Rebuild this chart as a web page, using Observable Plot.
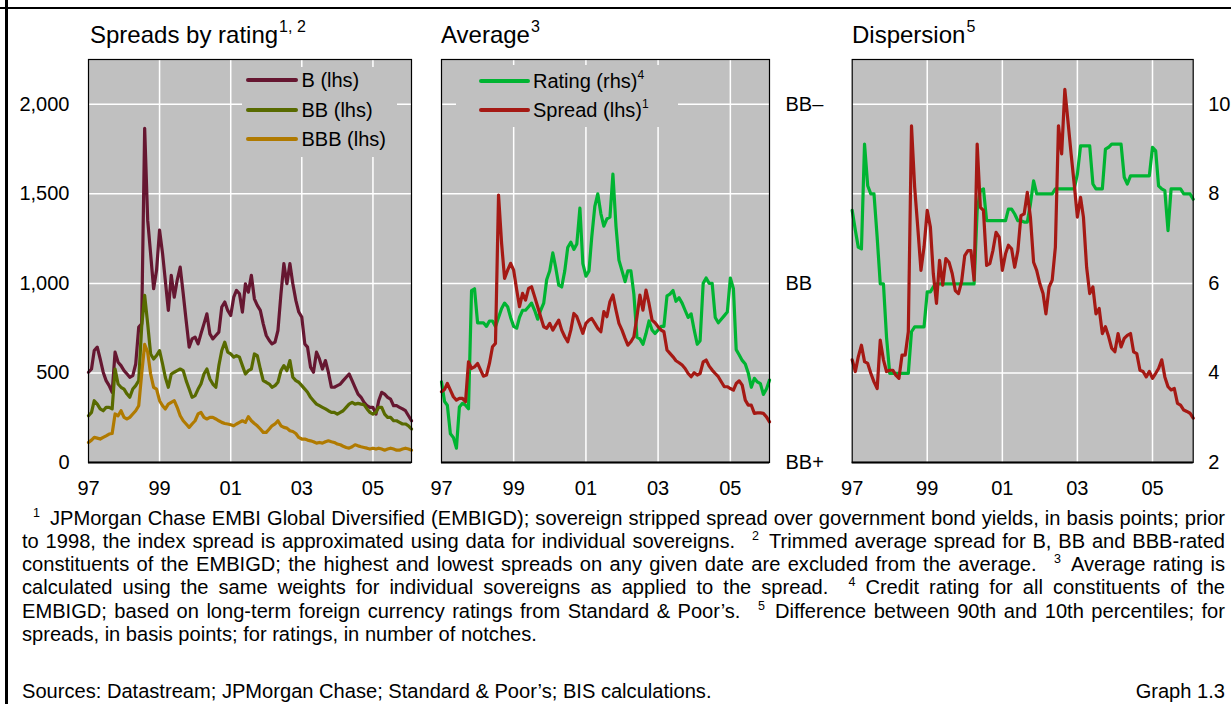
<!DOCTYPE html>
<html>
<head>
<meta charset="utf-8">
<script src="https://cdn.jsdelivr.net/npm/d3@7"></script>
<script src="https://cdn.jsdelivr.net/npm/@observablehq/plot@0.6"></script>
<style>
  html, body { margin: 0; padding: 0; background: #fff; }
  body { font-family: "Liberation Sans", Arial, Helvetica, sans-serif; color: #000; }
  #page { position: relative; width: 1231px; height: 704px; overflow: hidden; background: #fff; }
  .abs { position: absolute; }
  .title { font-size: 24px; line-height: 24px; white-space: nowrap; }
  .title sup { font-size: 16px; vertical-align: 0; position: relative; top: -11px; line-height: 0; margin-left: 1px; }
  .legbox { background: #c0c0c0; }
  .legtxt { font-size: 20px; line-height: 20px; white-space: nowrap; }
  .legtxt sup { font-size: 12px; position: relative; top: -9px; vertical-align: 0; line-height: 0; }
  .sw { height: 4px; border-radius: 2px; }
  #notes { left: 22px; top: 506.5px; width: 1203px; font-size: 20.3px; line-height: 23.3px; }
  #notes .ln { text-align: justify; text-align-last: justify; white-space: nowrap; }
  #notes .ln.last { text-align: left; text-align-last: left; }
  #notes sup { font-size: 12.5px; position: relative; top: -8px; vertical-align: 0; line-height: 0; }
  #notes .lead { display: inline-block; width: 28px; padding-left: 11px; box-sizing: border-box; }
  #src { left: 22px; top: 680px; width: 1203px; font-size: 20.3px; line-height: 23.3px; white-space: nowrap; }
  #src .r { position: absolute; right: 0; top: 0; }
</style>
</head>
<body>
<div id="page">
  <div class="abs" style="left:0;top:6.7px;width:1231px;height:2.6px;background:#000"></div>
  <div class="abs" style="left:5.2px;top:0;width:2.8px;height:704px;background:#000"></div>
  <div id="p1" class="abs" style="left:0;top:0"></div>
  <div id="p2" class="abs" style="left:420px;top:0"></div>
  <div id="p3" class="abs" style="left:840px;top:0"></div>
  <div id="overlay"></div>
  <div id="notes" class="abs"></div>
  <div id="src" class="abs"></div>
</div>
<script>
// ---------------- data (monthly, Jan 1997 – Feb 2006) ----------------
const startMonth = new Date(Date.UTC(1997, 0, 1));
const endMonthExclusive = new Date(Date.UTC(2006, 2, 1));
const months = d3.utcMonths(startMonth, endMonthExclusive);

// Spreads by rating, basis points (lhs)
const spreadB = [504,522,625,644,578,504,457,429,392,616,
  560,541,513,494,476,485,550,756,774,1866,
  1353,1166,970,1073,1297,1166,1017,849,1045,923,
  1017,1091,942,793,644,690,700,662,718,774,
  830,718,690,709,728,868,896,849,821,923,
  961,942,840,998,951,1045,914,877,849,774,
  709,681,662,672,737,942,1110,998,1110,998,
  905,840,812,662,644,532,504,616,578,522,
  569,504,420,420,429,438,457,476,494,457,
  420,382,364,336,317,308,308,270,345,392,
  382,364,354,317,317,308,299,289,261,233];
const spreadBB = [261,280,345,326,299,289,308,308,299,522,
  438,420,410,382,364,410,429,457,756,933,
  774,606,578,597,625,550,476,420,494,504,
  513,522,513,457,410,364,373,410,438,494,
  522,466,438,420,541,625,672,616,606,588,
  597,588,541,494,513,522,606,597,522,457,
  448,438,420,429,448,513,541,513,569,476,
  457,448,429,410,392,364,345,326,317,308,
  299,289,280,280,270,280,289,308,326,336,
  326,330,326,323,299,280,270,280,308,308,
  270,252,252,233,233,224,215,215,205,187];
const spreadBBB = [112,125,140,136,131,140,149,159,162,271,
  261,289,252,243,252,271,289,317,494,659,
  616,494,420,410,345,317,299,326,336,345,
  308,261,233,215,196,215,233,271,280,252,
  243,252,252,243,233,224,218,215,211,205,
  215,224,233,224,256,233,218,205,187,168,
  168,187,205,215,233,205,196,192,177,173,
  162,140,131,131,125,121,116,108,112,108,
  116,121,116,112,103,99,91,84,80,88,
  99,93,88,84,80,75,80,75,80,75,
  69,75,80,75,69,69,75,80,75,69];

// Average: spread (lhs, bp) and rating (rhs, notch scale: 11 = BB+, 12 = BB, 13 = BB–)
const avgSpread = [395,408,441,404,367,348,358,358,339,562,
  525,534,553,516,482,488,553,646,665,1493,
  1223,1028,1074,1112,1074,963,870,944,907,972,
  981,926,870,814,758,749,777,739,767,795,
  739,702,674,739,832,814,767,721,777,795,
  804,777,749,730,842,814,898,935,851,777,
  739,693,655,674,702,814,935,851,963,888,
  795,780,758,739,730,628,609,590,568,557,
  544,525,497,479,501,488,497,562,572,538,
  516,497,479,451,423,423,413,404,441,456,
  432,348,320,320,274,277,277,274,255,227];
const avgRating = [11.45,11.34,11.32,11.16,11.14,11.08,11.31,11.33,11.32,11.30,
  11.96,11.97,11.78,11.78,11.78,11.76,11.79,11.79,11.76,11.81,
  11.86,11.89,11.87,11.81,11.76,11.75,11.81,11.85,11.85,11.87,
  11.89,11.85,11.80,11.85,11.89,12.02,12.07,12.17,12.09,11.99,
  11.98,12.07,12.20,12.23,12.19,12.22,12.42,12.11,12.04,12.07,
  12.26,12.43,12.50,12.39,12.32,12.36,12.37,12.61,12.32,12.13,
  12.07,12.01,12.07,12.07,11.94,11.70,11.69,11.66,11.72,11.79,
  11.74,11.72,11.74,11.76,11.76,11.93,11.94,11.96,11.90,11.92,
  11.89,11.85,11.81,11.83,11.74,11.66,11.68,12.00,12.03,12.00,
  12.00,11.81,11.78,11.80,11.82,11.84,12.03,11.97,11.63,11.60,
  11.57,11.55,11.50,11.42,11.47,11.45,11.44,11.38,11.41,11.46];
const ratingTickValues = [11, 12, 13];
const ratingTickLabels = ["BB+", "BB", "BB\u2013"];

// Dispersion: spreads (bp, lhs scale) and ratings (notches, rhs 2–10)
const dispSpread = [573,508,590,655,563,553,498,450,413,683,
  573,508,515,515,488,470,600,600,730,1880,
  1535,1313,1073,1203,1408,1313,1055,888,1128,990,
  1138,1118,1055,960,943,1008,1155,1183,1183,1018,
  1778,1425,1408,1100,1110,1183,1285,1258,1073,1165,
  1213,1193,1090,1183,1378,1388,1508,1370,1118,1073,
  998,943,830,980,1018,1203,1880,1723,2083,1908,
  1723,1555,1370,1480,1370,1090,943,980,830,860,
  720,758,703,638,618,720,645,693,710,720,
  618,608,515,508,478,508,470,498,525,573,
  478,423,405,413,330,320,293,285,275,248];
const dispRating = [7.63,7.18,6.81,6.77,9.11,8.18,8.00,8.00,7.03,5.99,
  5.99,4.80,3.99,3.99,3.99,3.99,3.99,3.99,3.99,4.92,
  5.03,5.03,5.03,5.03,5.81,5.81,5.92,5.99,5.99,5.99,
  5.99,5.99,5.99,5.99,5.99,5.99,5.99,5.99,5.99,5.99,
  7.63,8.07,8.11,7.40,7.40,7.40,7.40,7.40,7.40,7.40,
  7.66,7.66,7.55,7.40,7.40,7.37,7.37,7.77,8.29,8.00,
  8.00,8.00,8.00,8.00,8.00,8.11,8.11,8.11,8.11,8.11,
  8.11,8.11,8.44,9.07,9.07,9.07,9.07,8.22,8.11,8.11,
  8.11,9.00,9.04,9.11,9.11,9.11,9.11,8.37,8.22,8.40,
  8.40,8.40,8.40,8.40,8.40,8.40,9.04,8.96,8.18,8.11,
  8.07,7.18,8.11,8.11,8.11,8.11,8.00,8.00,8.00,7.88];
const dispTickLabels = [2, 4, 6, 8, 10];

// axes
const yearTickYears = [1997, 1999, 2001, 2003, 2005];
const spreadTicks = [0, 500, 1000, 1500, 2000];
const spreadDomain = [0, 2250];

// ---------------- styling ----------------
const C = { B: "#661731", BB: "#586a00", BBB: "#b07a00", rating: "#00b432", spread: "#a51914" };
const FONT = "'Liberation Sans', Arial, Helvetica, sans-serif";

const yearTicks = yearTickYears.map(y => new Date(Date.UTC(y, 0, 1)));
const gridYears = yearTicks.slice(1);
const gridY = spreadTicks.slice(1);
const rows = vals => vals.map((v, i) => ({ date: months[i], value: v }));

// rhs → lhs mappings (dual axes share the lhs gridlines)
const ratingToY = r => (r - ratingTickValues[0]) * (spreadTicks[2] - spreadTicks[0]);
const dispToY = v => (v - dispTickLabels[0]) * (spreadTicks[1] / (dispTickLabels[1] - dispTickLabels[0]));

function panel({ width, ml, mr, lines, axes }) {
  return Plot.plot({
    width, height: 500,
    marginLeft: ml, marginRight: mr, marginTop: 59, marginBottom: 38,
    style: { fontFamily: FONT, fontSize: "20px", color: "#000", background: "transparent", overflow: "visible" },
    x: { type: "utc", domain: [months[0], months[months.length - 1]] },
    y: { domain: spreadDomain },
    marks: [
      Plot.frame({ fill: "#c0c0c0" }),
      Plot.ruleX(gridYears, { stroke: "#fff", strokeWidth: 1.5 }),
      Plot.ruleY(gridY, { stroke: "#fff", strokeWidth: 1.5 }),
      ...lines.map(l => Plot.lineY(l.data, {
        x: "date", y: l.y || "value", stroke: l.color, strokeWidth: 3.2,
        strokeLinejoin: "round", strokeLinecap: "round"
      })),
      Plot.frame({ stroke: "#000", strokeWidth: 1.2 }),
      Plot.ruleY([0], { stroke: "#000", strokeWidth: 2.2 }),
      Plot.axisX({ ticks: yearTicks, tickFormat: d3.utcFormat("%y"), tickSize: 0, tickPadding: 18, label: null, fontSize: 20 }),
      ...axes
    ]
  });
}

document.getElementById("p1").append(panel({
  width: 420, ml: 88, mr: 9,
  lines: [
    { data: rows(spreadB), color: C.B },
    { data: rows(spreadBB), color: C.BB },
    { data: rows(spreadBBB), color: C.BBB }
  ],
  axes: [Plot.axisY({ anchor: "left", ticks: spreadTicks, tickFormat: d3.format(","), tickSize: 0, tickPadding: 19, label: null, fontSize: 20 })]
}));

document.getElementById("p2").append(panel({
  width: 420, ml: 21, mr: 71,
  lines: [
    { data: rows(avgRating), color: C.rating, y: d => ratingToY(d.value) },
    { data: rows(avgSpread), color: C.spread }
  ],
  axes: [Plot.axisY({
    anchor: "right", ticks: ratingTickValues.map(ratingToY),
    tickFormat: (d, i) => ratingTickLabels[i], tickSize: 0, tickPadding: 16, label: null, fontSize: 20
  })]
}));

document.getElementById("p3").append(panel({
  width: 391, ml: 11.7, mr: 38.3,
  lines: [
    { data: rows(dispRating), color: C.rating, y: d => dispToY(d.value) },
    { data: rows(dispSpread), color: C.spread }
  ],
  axes: [Plot.axisY({
    anchor: "right", ticks: dispTickLabels.map(dispToY),
    tickFormat: (d, i) => String(dispTickLabels[i]), tickSize: 0, tickPadding: 15, label: null, fontSize: 20
  })]
}));

// ---------------- titles and legends ----------------
const overlay = document.getElementById("overlay");
function add(html, style, cls) {
  const el = document.createElement("div");
  el.className = "abs " + (cls || "");
  el.setAttribute("style", style);
  el.innerHTML = html;
  overlay.append(el);
  return el;
}
add("Spreads by rating<sup>1, 2</sup>", "left:90px;top:22.7px", "title");
add("Average<sup>3</sup>", "left:441px;top:22.7px", "title");
add("Dispersion<sup>5</sup>", "left:852px;top:22.7px", "title");

const legend1 = [
  { label: "B (lhs)", color: C.B },
  { label: "BB (lhs)", color: C.BB },
  { label: "BBB (lhs)", color: C.BBB }
];
const legend2 = [
  { label: "Rating (rhs)<sup>4</sup>", color: C.rating },
  { label: "Spread (lhs)<sup>1</sup>", color: C.spread }
];
function legend(items, box, x0, x1, tx, y0, dy) {
  add("", `left:${box[0]}px;top:${box[1]}px;width:${box[2]}px;height:${box[3]}px`, "legbox");
  items.forEach((it, i) => {
    const cy = y0 + i * dy;
    add("", `left:${x0}px;top:${cy - 2}px;width:${x1 - x0}px;background:${it.color}`, "sw");
    add(it.label, `left:${tx}px;top:${cy - 9.8}px`, "legtxt");
  });
}
legend(legend1, [241.5, 66.5, 155, 90.5], 246, 298, 301.5, 80, 29.6);
legend(legend2, [456, 65, 222, 62], 479, 530, 533, 80.7, 29.4);

// ---------------- footnotes ----------------
const noteLines = [
  "<span class='lead'><sup>1</sup></span>JPMorgan Chase EMBI Global Diversified (EMBIGD); sovereign stripped spread over government bond yields, in basis points; prior",
  "to 1998, the index spread is approximated using data for individual sovereigns. &ensp;<sup>2</sup>&ensp;Trimmed average spread for B, BB and BBB-rated",
  "constituents of the EMBIGD; the highest and lowest spreads on any given date are excluded from the average. &ensp;<sup>3</sup>&ensp;Average rating is",
  "calculated using the same weights for individual sovereigns as applied to the spread. &ensp;<sup>4</sup>&ensp;Credit rating for all constituents of the",
  "EMBIGD; based on long-term foreign currency ratings from Standard &amp; Poor\u2019s. &ensp;<sup>5</sup>&ensp;Difference between 90th and 10th percentiles; for",
  "spreads, in basis points; for ratings, in number of notches."
];
const notes = document.getElementById("notes");
const lineEls = noteLines.map((t, i) => {
  const d = document.createElement("div");
  d.className = "ln" + (i === noteLines.length - 1 ? " last" : "");
  d.innerHTML = t;
  notes.append(d);
  return d;
});
// shrink the footnote font slightly only if a line would not fit the text block
(function fit() {
  let size = parseFloat(getComputedStyle(notes).fontSize);
  const probe = document.createElement("span");
  probe.style.whiteSpace = "nowrap";
  probe.style.visibility = "hidden";
  probe.style.position = "absolute";
  notes.append(probe);
  const tooWide = () => lineEls.some(el => { probe.innerHTML = el.innerHTML; return probe.getBoundingClientRect().width > notes.clientWidth - 4; });
  while (tooWide() && size > 17) { size -= 0.2; notes.style.fontSize = size + "px"; }
  probe.remove();
  document.getElementById("src").style.fontSize = size + "px";
})();
document.getElementById("src").innerHTML =
  "Sources: Datastream; JPMorgan Chase; Standard &amp; Poor\u2019s; BIS calculations.<span class='r'>Graph 1.3</span>";
</script>
</body>
</html>
